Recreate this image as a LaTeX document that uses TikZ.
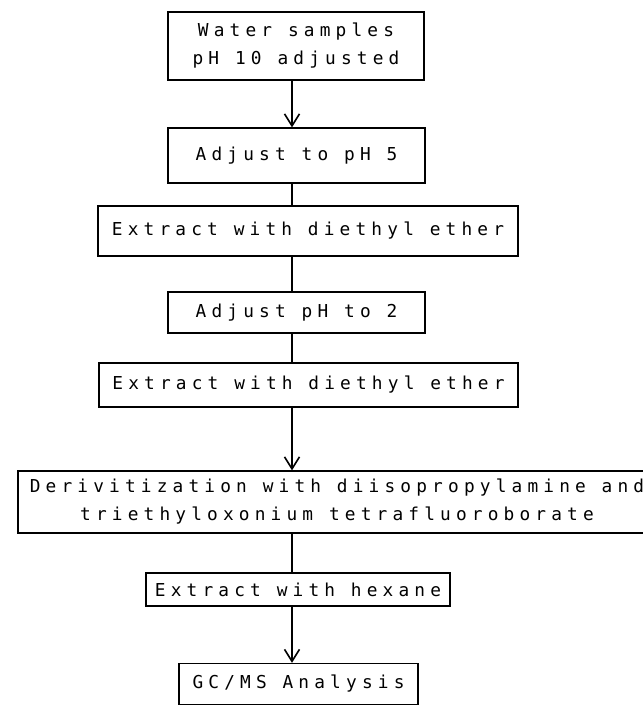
\documentclass[tikz,border=0pt]{standalone}
\usepackage{fontspec}
\newfontfamily\dotfont{DejaVu Sans Mono}[LetterSpace=29]
\usetikzlibrary{arrows.meta}
\begin{document}
\begin{tikzpicture}[x=1pt,y=-1pt,
    procbox/.style={draw,line width=1.3pt,inner sep=0pt,align=center,
      font=\dotfont\fontsize{17.8}{28}\selectfont},
    flow/.style={line width=1.6pt},
    flowarrow/.style={flow,-{Straight Barb[length=12pt,width=15pt,line width=1.6pt]}}]
  \useasboundingbox (0,0) rectangle (643,705);
  \coordinate (spine) at (292,0);
  \node[procbox,minimum width=256,minimum height=68] (water) at (296,46) {Water samples\\pH 10 adjusted};
  \node[procbox,minimum width=257,minimum height=55] (ph5) at (296.5,155.5) {Adjust to pH 5};
  \node[procbox,minimum width=420,minimum height=50] (ether1) at (308,231) {Extract with diethyl ether};
  \node[procbox,minimum width=257,minimum height=41] (ph2) at (296.5,312.5) {Adjust pH to 2};
  \node[procbox,minimum width=419,minimum height=44] (ether2) at (308.5,385) {Extract with diethyl ether};
  \node[procbox,minimum width=638,minimum height=62] (deriv) at (337,502) {Derivitization with diisopropylamine and\\triethyloxonium tetrafluoroborate};
  \node[procbox,minimum width=304,minimum height=33] (hexane) at (298,589.5) {Extract with hexane};
  \node[procbox,minimum width=239,minimum height=41] (gcms) at (298.5,684) {GC/MS Analysis};
  \draw[flowarrow] (water.south -| spine) -- (ph5.north -| spine);
  \draw[flow] (ph5.south -| spine) -- (ether1.north -| spine);
  \draw[flow] (ether1.south -| spine) -- (ph2.north -| spine);
  \draw[flow] (ph2.south -| spine) -- (ether2.north -| spine);
  \draw[flowarrow] (ether2.south -| spine) -- (deriv.north -| spine);
  \draw[flow] (deriv.south -| spine) -- (hexane.north -| spine);
  \draw[flowarrow] (hexane.south -| spine) -- (gcms.north -| spine);
\end{tikzpicture}
\end{document}
